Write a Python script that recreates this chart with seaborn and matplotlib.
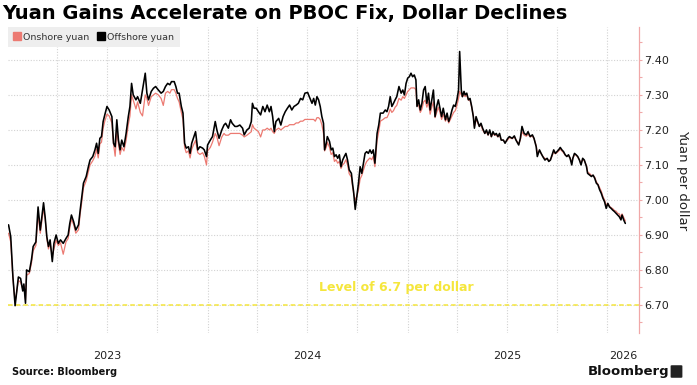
import pandas as pd
import seaborn as sns
import matplotlib.pyplot as plt
from matplotlib.lines import Line2D
from matplotlib.patches import FancyBboxPatch
from matplotlib.ticker import MultipleLocator, FormatStrFormatter

# days since 2023-01-01
start = "2023-01-01"
days = [
    # 2023
    1, 5, 9, 13, 19, 23, 27, 29, 32, 34, 39, 43, 46, 51, 55, 59, 62, 65, 68, 71,
    74, 77, 81, 84, 88, 92, 96, 101, 106, 110, 113, 116, 120, 124, 129, 132, 135, 138, 143, 147,
    150, 155, 159, 162, 165, 168, 171, 174, 177, 181, 185, 190, 193, 196, 199, 202, 205, 208, 212, 216,
    220, 223,
    226, 229, 234, 237, 242, 246, 251, 254, 257, 262, 266, 270, 275, 280, 284, 288, 292, 296, 299, 304,
    307, 310, 313, 317, 320, 323, 326, 330, 333, 336, 340, 343, 347, 351, 356, 359, 363, 365, 370, 374,
    379, 382, 386, 391, 395, 398, 403, 407, 410, 415, 419, 424, 429, 432, 437, 441, 445, 447, 450,
    # 2024
    454, 458, 462, 466, 470, 474, 478, 481, 484, 487, 490, 495, 499, 503, 507, 511, 515, 519, 523, 527,
    531, 535, 539, 543, 548, 551, 556, 559, 562, 565, 568, 571, 574, 577, 579, 582, 584, 588, 591, 594,
    597, 600, 603, 606, 609, 612, 615, 618, 621, 624, 628, 630, 632, 635, 638, 641, 644, 647, 650, 653,
    656, 659, 662, 665, 668, 671, 675, 678, 681,
    # 2025
    686, 690, 693, 696, 699, 702, 705, 708, 711, 715, 719, 722, 725, 728, 731, 734, 737, 740, 743, 746,
    748, 751, 754, 757, 760, 763, 766, 769, 772, 775, 778, 781, 784, 787, 790, 793, 796, 800, 803, 806,
    809, 812, 815, 818, 821, 824, 826, 829, 831, 834, 836, 839, 842, 845, 848, 851, 853, 856, 859, 862,
    865, 868, 872, 875, 878, 881, 884, 887, 890, 893, 896, 899, 902, 906, 909,
    914, 917, 922, 926, 929, 934, 937, 940, 944, 948, 951, 955, 959, 962, 966, 968, 972, 975, 978, 982,
    986, 989, 992, 995, 998, 1001, 1004, 1007, 1010, 1013, 1016, 1019, 1022, 1025, 1028, 1031, 1033, 1036, 1039, 1042,
    1045, 1048, 1051, 1054, 1058, 1060, 1064, 1067, 1070, 1073, 1076, 1079, 1082, 1085, 1088, 1091, 1094, 1097, 1100, 1103,
    1106, 1109, 1112, 1115, 1118, 1121, 1123, 1126, 1129,
]

offshore = [
    6.929, 6.895, 6.780, 6.698, 6.780, 6.776, 6.740, 6.760, 6.705, 6.800, 6.795, 6.830, 6.867, 6.880, 6.980, 6.914, 6.952, 6.992, 6.950, 6.895,
    6.867, 6.886, 6.824, 6.876, 6.900, 6.876, 6.886, 6.876, 6.890, 6.900, 6.933, 6.957, 6.938, 6.914, 6.929, 6.971, 7.010, 7.048, 7.067, 7.095,
    7.114, 7.124, 7.143, 7.162, 7.133, 7.176, 7.181, 7.224, 7.243, 7.267, 7.257, 7.238, 7.162, 7.152, 7.229, 7.171, 7.143, 7.171, 7.152, 7.190,
    7.238, 7.267,
    7.333, 7.300, 7.286, 7.295, 7.276, 7.314, 7.362, 7.305, 7.286, 7.310, 7.319, 7.324, 7.314, 7.305, 7.310, 7.324, 7.333, 7.329, 7.338, 7.338,
    7.324, 7.305, 7.305, 7.267, 7.248, 7.162, 7.148, 7.152, 7.133, 7.162, 7.181, 7.195, 7.143, 7.152, 7.148, 7.143, 7.124, 7.157, 7.171, 7.181,
    7.224, 7.200, 7.176, 7.200, 7.214, 7.219, 7.205, 7.229, 7.219, 7.210, 7.210, 7.214, 7.205, 7.186, 7.200, 7.205, 7.224, 7.276, 7.262,
    7.262, 7.252, 7.243, 7.267, 7.252, 7.271, 7.252, 7.267, 7.238, 7.195, 7.224, 7.233, 7.214, 7.238, 7.252, 7.262, 7.271, 7.257, 7.267, 7.271,
    7.276, 7.290, 7.286, 7.305, 7.307, 7.295, 7.276, 7.290, 7.271, 7.295, 7.286, 7.267, 7.238, 7.219, 7.143, 7.162, 7.181, 7.167, 7.143, 7.148,
    7.124, 7.129, 7.119, 7.129, 7.095, 7.114, 7.124, 7.133, 7.114, 7.086, 7.076, 7.048, 7.024, 6.973, 7.010, 7.048, 7.095, 7.076, 7.105, 7.133,
    7.138, 7.133, 7.143, 7.133, 7.143, 7.105, 7.190, 7.214, 7.248,
    7.248, 7.257, 7.252, 7.267, 7.295, 7.267, 7.276, 7.286, 7.295, 7.324, 7.305, 7.314, 7.300, 7.333, 7.348, 7.352, 7.362, 7.352, 7.357, 7.343,
    7.267, 7.286, 7.257, 7.276, 7.314, 7.324, 7.276, 7.305, 7.257, 7.286, 7.314, 7.238, 7.267, 7.286, 7.262, 7.238, 7.262, 7.229, 7.248, 7.224,
    7.238, 7.257, 7.271, 7.267, 7.286, 7.314, 7.424, 7.314, 7.295, 7.310, 7.300, 7.305, 7.286, 7.290, 7.267, 7.238, 7.205, 7.238, 7.224, 7.210,
    7.219, 7.205, 7.190, 7.200, 7.186, 7.200, 7.181, 7.195, 7.186, 7.190, 7.181, 7.190, 7.171, 7.171, 7.162,
    7.176, 7.181, 7.176, 7.183, 7.171, 7.157, 7.176, 7.210, 7.190, 7.186, 7.195, 7.181, 7.186, 7.176, 7.152, 7.124, 7.143, 7.133, 7.124, 7.114,
    7.119, 7.110, 7.114, 7.129, 7.143, 7.133, 7.138, 7.143, 7.150, 7.143, 7.138, 7.129, 7.124, 7.129, 7.119, 7.100, 7.119, 7.133, 7.129, 7.124,
    7.114, 7.100, 7.119, 7.114, 7.095, 7.076, 7.071, 7.067, 7.071, 7.062, 7.048, 7.043, 7.029, 7.019, 7.005, 6.995, 6.976, 6.990, 6.980, 6.976,
    6.971, 6.967, 6.962, 6.957, 6.952, 6.943, 6.957, 6.943, 6.933,
]

onshore = [
    6.905, 6.880, 6.775, 6.708, 6.770, 6.765, 6.745, 6.755, 6.715, 6.785, 6.790, 6.820, 6.855, 6.870, 6.960, 6.905, 6.940, 6.975, 6.945, 6.890,
    6.860, 6.875, 6.840, 6.860, 6.885, 6.870, 6.878, 6.845, 6.880, 6.890, 6.920, 6.945, 6.930, 6.905, 6.915, 6.960, 6.995, 7.035, 7.055, 7.080,
    7.100, 7.112, 7.125, 7.145, 7.120, 7.160, 7.165, 7.205, 7.225, 7.245, 7.240, 7.220, 7.160, 7.125, 7.200, 7.160, 7.130, 7.150, 7.140, 7.170,
    7.215, 7.240,
    7.300, 7.285, 7.260, 7.280, 7.250, 7.240, 7.300, 7.290, 7.270, 7.295, 7.300, 7.305, 7.300, 7.290, 7.270, 7.305, 7.310, 7.305, 7.315, 7.315,
    7.305, 7.290, 7.280, 7.250, 7.230, 7.150, 7.135, 7.140, 7.120, 7.145, 7.160, 7.170, 7.135, 7.130, 7.135, 7.125, 7.100, 7.140, 7.150, 7.165,
    7.190, 7.180, 7.155, 7.180, 7.190, 7.185, 7.185, 7.190, 7.190, 7.190, 7.190, 7.190, 7.185, 7.180, 7.185, 7.190, 7.195, 7.215, 7.205,
    7.200, 7.195, 7.180, 7.200, 7.200, 7.205, 7.200, 7.205, 7.195, 7.190, 7.200, 7.205, 7.200, 7.205, 7.210, 7.210, 7.215, 7.215, 7.215, 7.220,
    7.220, 7.225, 7.225, 7.230, 7.230, 7.230, 7.230, 7.230, 7.225, 7.235, 7.235, 7.230, 7.215, 7.190, 7.140, 7.150, 7.165, 7.150, 7.130, 7.135,
    7.110, 7.115, 7.105, 7.110, 7.090, 7.100, 7.105, 7.115, 7.100, 7.075, 7.065, 7.040, 7.020, 7.000, 7.010, 7.030, 7.060, 7.070, 7.085, 7.100,
    7.110, 7.115, 7.120, 7.115, 7.125, 7.095, 7.170, 7.195, 7.225,
    7.230, 7.235, 7.235, 7.245, 7.260, 7.250, 7.255, 7.265, 7.270, 7.290, 7.285, 7.295, 7.290, 7.300, 7.310, 7.315, 7.320, 7.320, 7.320, 7.315,
    7.270, 7.270, 7.250, 7.260, 7.280, 7.285, 7.265, 7.280, 7.245, 7.265, 7.280, 7.235, 7.250, 7.265, 7.250, 7.230, 7.245, 7.225, 7.235, 7.220,
    7.230, 7.240, 7.250, 7.255, 7.270, 7.290, 7.310, 7.300, 7.295, 7.300, 7.295, 7.300, 7.285, 7.285, 7.265, 7.240, 7.210, 7.230, 7.220, 7.210,
    7.215, 7.200, 7.190, 7.195, 7.185, 7.195, 7.180, 7.190, 7.185, 7.185, 7.180, 7.185, 7.172, 7.170, 7.165,
    7.172, 7.178, 7.175, 7.180, 7.172, 7.160, 7.172, 7.195, 7.185, 7.182, 7.188, 7.180, 7.183, 7.175, 7.155, 7.135, 7.140, 7.132, 7.125, 7.118,
    7.118, 7.112, 7.115, 7.125, 7.138, 7.132, 7.135, 7.140, 7.145, 7.140, 7.135, 7.128, 7.125, 7.127, 7.120, 7.108, 7.118, 7.130, 7.128, 7.122,
    7.115, 7.105, 7.115, 7.112, 7.098, 7.080, 7.075, 7.070, 7.070, 7.065, 7.052, 7.045, 7.035, 7.025, 7.010, 7.000, 6.985, 6.990, 6.982, 6.978,
    6.975, 6.970, 6.968, 6.962, 6.960, 6.950, 6.960, 6.950, 6.940,
]

year_labels = ["2023", "2024", "2025", "2026"]
year_label_dates = ["2023-07-02", "2024-07-01", "2025-07-02", "2026-01-30"]
level = 6.7
level_label = "Level of 6.7 per dollar"
x_end = "2026-02-28"

assert len(days) == len(offshore) == len(onshore)

dates = pd.Timestamp(start) + pd.to_timedelta(days, unit="D")
df = pd.DataFrame({"date": dates, "Onshore yuan": onshore, "Offshore yuan": offshore})

ONSHORE_C = "#ec7a72"
SPINE_C = "#f0a8a8"
YELLOW = "#f5e63c"

sns.set_style("white")
plt.rcParams["font.family"] = ["DejaVu Sans"]

fig = plt.figure(figsize=(6.97, 3.85), dpi=100)
ax = fig.add_axes([8 / 697, 52 / 385, 631 / 697, 306 / 385])

sns.lineplot(data=df, x="date", y="Onshore yuan", color=ONSHORE_C, lw=0.9, ax=ax)
sns.lineplot(data=df, x="date", y="Offshore yuan", color="black", lw=1.15, ax=ax)

ax.axhline(level, color=YELLOW, ls=(0, (3, 2)), lw=1.1, zorder=1)
ax.text(0.616, level + 0.049, level_label, transform=ax.get_yaxis_transform(),
        ha="center", va="center", color=YELLOW, fontsize=9, fontweight="bold")

ax.set_xlim(pd.Timestamp(start), pd.Timestamp(x_end))
ax.set_ylim(6.62, 7.494)

# y axis on the right
ax.yaxis.tick_right()
ax.yaxis.set_major_locator(MultipleLocator(0.1))
ax.yaxis.set_minor_locator(MultipleLocator(0.05))
ax.yaxis.set_major_formatter(FormatStrFormatter("%.2f"))
ax.tick_params(axis="y", which="major", length=2.5, width=0.8, color=SPINE_C,
               labelsize=8, labelcolor="#222222", pad=1.5, right=True, left=False)
ax.tick_params(axis="y", which="minor", length=2, width=0.8, color=SPINE_C, right=True, left=False)

# x axis: quarterly gridlines, year labels mid-year
ax.xaxis.remove_overlapping_locs = False
quarters = pd.date_range("2023-04-01", "2026-01-01", freq="QS")
ax.set_xticks(quarters)
ax.set_xticklabels([])
ax.set_xticks(pd.to_datetime(year_label_dates), labels=year_labels, minor=True)
ax.tick_params(axis="x", which="both", length=0, pad=13, labelsize=8, labelcolor="#222222")

ax.grid(axis="y", which="major", ls=(0, (1, 1.5)), color="#d2d2d2", lw=0.8)
ax.grid(axis="x", which="major", ls=(0, (1, 1.5)), color="#d2d2d2", lw=0.8)

for s in ["left", "top", "bottom"]:
    ax.spines[s].set_visible(False)
ax.spines["right"].set_color(SPINE_C)
ax.spines["right"].set_linewidth(0.9)
ax.set_xlabel("")
ax.set_ylabel("")

fig.text(683 / 697, 1 - 180 / 385, "Yuan per dollar", rotation=270, ha="center", va="center",
         fontsize=9.5, color="#222222")

handles = [
    Line2D([], [], marker="s", ls="", markersize=5.5, markerfacecolor=ONSHORE_C, markeredgecolor=ONSHORE_C),
    Line2D([], [], marker="s", ls="", markersize=5.5, markerfacecolor="black", markeredgecolor="black"),
]
leg = ax.legend(handles, ["Onshore yuan", "Offshore yuan"], loc="upper left", bbox_to_anchor=(0, 1),
                ncol=2, frameon=True, fancybox=False, facecolor="#eeeeee", edgecolor="none",
                fontsize=6.8, handletextpad=0.3, columnspacing=0.9, handlelength=0.7,
                borderaxespad=0, borderpad=0.6, labelcolor="#333333")
leg.get_frame().set_alpha(1)

fig.text(0.003, 1 - 13 / 385, "Yuan Gains Accelerate on PBOC Fix, Dollar Declines",
         fontsize=14, fontweight="bold", ha="left", va="center", color="black")
fig.text(12 / 697, 1 - 372 / 385, "Source: Bloomberg", fontsize=7, fontweight="bold",
         ha="left", va="center", color="#111111")
fig.text(669 / 697, 1 - 371 / 385, "Bloomberg", fontsize=9.5, fontweight="semibold",
         ha="right", va="center", color="#111111")
fig.patches.append(FancyBboxPatch((672 / 697, 1 - 377 / 385), 9 / 697, 11 / 385,
                                  boxstyle="round,pad=0.002", transform=fig.transFigure,
                                  facecolor="#222222", edgecolor="none"))

fig.savefig("out.png", dpi=100)
